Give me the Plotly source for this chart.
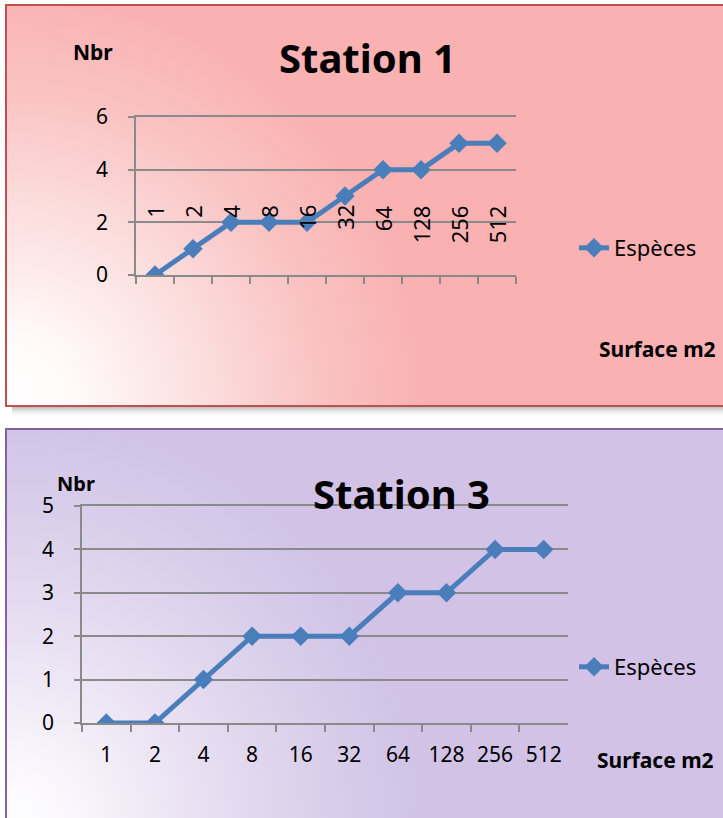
import base64
import plotly.graph_objects as go

W, H = 723, 818

# Quadrat surfaces (m2) and number of species found at each step
surfaces = ["1", "2", "4", "8", "16", "32", "64", "128", "256", "512"]
especes_station1 = [0, 1, 2, 2, 2, 3, 4, 4, 5, 5]
especes_station3 = [0, 0, 1, 2, 2, 2, 3, 3, 4, 4]

BLUE = "#4A7EBB"
GRID = "#8A8A8A"
FONT = "Noto Sans"


def px(x):
    return x / W


def py(y):
    return 1 - y / H


# Panel backgrounds: soft radial fades from the lower-left corner, plus a drop shadow
svg = f"""<svg xmlns="http://www.w3.org/2000/svg" width="{W}" height="{H}" viewBox="0 0 {W} {H}">
<defs>
<radialGradient id="g1" gradientUnits="userSpaceOnUse" cx="6" cy="406" r="440">
<stop offset="0" stop-color="#FFFFFF"/>
<stop offset="0.15" stop-color="#FFFAFA"/>
<stop offset="0.45" stop-color="#FCDEDE"/>
<stop offset="0.7" stop-color="#FAC4C4"/>
<stop offset="0.95" stop-color="#F9B1B1"/>
</radialGradient>
<radialGradient id="g3" gradientUnits="userSpaceOnUse" cx="6" cy="830" r="440">
<stop offset="0" stop-color="#FFFFFF"/>
<stop offset="0.15" stop-color="#F9F7FC"/>
<stop offset="0.45" stop-color="#E8E0F2"/>
<stop offset="0.7" stop-color="#DAD0EB"/>
<stop offset="0.95" stop-color="#D1C2E6"/>
</radialGradient>
<linearGradient id="sh" x1="0" y1="0" x2="0" y2="1">
<stop offset="0" stop-color="#707070" stop-opacity="0.85"/>
<stop offset="1" stop-color="#FFFFFF" stop-opacity="0"/>
</linearGradient>
</defs>
<rect width="{W}" height="{H}" fill="#FFFFFF"/>
<rect x="12" y="403" width="720" height="15" fill="url(#sh)"/>
<rect x="6" y="5" width="720" height="401" fill="url(#g1)"/>
<rect x="6" y="429" width="720" height="400" fill="url(#g3)"/>
</svg>"""
bg_src = "data:image/svg+xml;base64," + base64.b64encode(svg.encode()).decode()

fig = go.Figure()

line_style = dict(color=BLUE, width=5)
marker_style = dict(symbol="diamond", size=15, color=BLUE)

fig.add_trace(go.Scatter(
    x=surfaces, y=especes_station1, name="Espèces", mode="lines+markers",
    line=line_style, marker=marker_style, xaxis="x", yaxis="y", legend="legend",
))
fig.add_trace(go.Scatter(
    x=surfaces, y=especes_station3, name="Espèces", mode="lines+markers",
    line=line_style, marker=marker_style, xaxis="x2", yaxis="y2", legend="legend2",
))
# empty traces so the companion tick axes get their own subplots
for xa, ya in (("x", "y3"), ("x2", "y4")):
    fig.add_trace(go.Scatter(x=[], y=[], xaxis=xa, yaxis=ya, showlegend=False,
                             hoverinfo="skip"))

tickfont = dict(family=FONT, size=21, color="black")
axis_common = dict(
    showline=True, linecolor=GRID, linewidth=1.5, mirror=True,
    ticks="outside", ticklen=7, tickwidth=1.5, tickcolor=GRID,
    tickfont=tickfont, zeroline=False, fixedrange=True, automargin=False,
)
# value axes: long transparent ticks set the label distance from the axis
value_axis = dict(
    showline=True, linecolor=GRID, linewidth=1.5,
    ticks="outside", ticklen=22, tickwidth=1, tickcolor="rgba(0,0,0,0)",
    tickfont=tickfont, zeroline=False, fixedrange=True, automargin=False,
    showgrid=True, gridcolor=GRID, gridwidth=1.5,
)
# companion axes drawing the short visible tick marks
tick_axis = dict(
    side="left", showline=False, showgrid=False, zeroline=False,
    showticklabels=False, ticks="outside", ticklen=7, tickwidth=1.5,
    tickcolor=GRID, fixedrange=True, automargin=False,
)

fig.update_layout(
    width=W, height=H,
    margin=dict(l=0, r=0, t=0, b=0, pad=0, autoexpand=False),
    paper_bgcolor="white", plot_bgcolor="white",
    font=dict(family=FONT, color="black"),
    xaxis=dict(
        domain=[px(136), px(516)], anchor="y", type="category",
        range=[-0.5, 9.5], tickson="boundaries", showgrid=False,
        showticklabels=False, **axis_common,
    ),
    yaxis=dict(domain=[py(275), py(117)], anchor="x", range=[0, 6], dtick=2,
               **value_axis),
    yaxis3=dict(overlaying="y", anchor="x", range=[0, 6], dtick=2, **tick_axis),
    xaxis2=dict(
        domain=[px(82), px(568)], anchor="y2", type="category",
        range=[-0.5, 9.5], tickson="boundaries", showgrid=False,
        ticklabelstandoff=12, **axis_common,
    ),
    yaxis2=dict(domain=[py(723), py(506)], anchor="x2", range=[0, 5], dtick=1,
                **value_axis),
    yaxis4=dict(overlaying="y2", anchor="x2", range=[0, 5], dtick=1, **tick_axis),
    legend=dict(
        x=px(574), y=py(248), xanchor="left", yanchor="middle",
        bgcolor="rgba(0,0,0,0)", font=dict(family=FONT, size=22, color="black"),
    ),
    legend2=dict(
        x=px(574), y=py(667), xanchor="left", yanchor="middle",
        bgcolor="rgba(0,0,0,0)", font=dict(family=FONT, size=22, color="black"),
    ),
    showlegend=True,
    images=[dict(
        source=bg_src, xref="paper", yref="paper", x=0, y=1, sizex=1, sizey=1,
        sizing="stretch", xanchor="left", yanchor="top", layer="below",
    )],
    shapes=[
        dict(type="rect", xref="paper", yref="paper",
             x0=px(6), x1=px(740), y0=py(406), y1=py(5),
             line=dict(color="#C0504D", width=2), layer="below"),
        dict(type="rect", xref="paper", yref="paper",
             x0=px(6), x1=px(740), y0=py(840), y1=py(429),
             line=dict(color="#8064A2", width=2), layer="below"),
    ],
)

annotations = [
    dict(text="<b>Station 1</b>", x=px(367), y=py(58), font=dict(size=40)),
    dict(text="<b>Station 3</b>", x=px(401), y=py(493), font=dict(size=40)),
    dict(text="<b>Nbr</b>", x=px(93), y=py(52), font=dict(size=21)),
    dict(text="<b>Nbr</b>", x=px(76), y=py(483), font=dict(size=20)),
    dict(text="<b>Surface m2</b>", x=px(657), y=py(349), font=dict(size=21)),
    dict(text="<b>Surface m2</b>", x=px(655), y=py(760), font=dict(size=21)),
]
for a in annotations:
    a.update(xref="paper", yref="paper", showarrow=False,
             xanchor="center", yanchor="middle")
    a["font"].update(family=FONT, color="black")

# Station 1 category labels, rotated and sitting inside the plot area
for i, s in enumerate(surfaces):
    annotations.append(dict(
        text=s, x=i, y=2.72, xref="x", yref="y", showarrow=False,
        textangle=-90, xanchor="center", yanchor="top",
        font=dict(family=FONT, size=22, color="black"),
    ))

fig.update_layout(annotations=annotations)

fig.write_html("out.html")
